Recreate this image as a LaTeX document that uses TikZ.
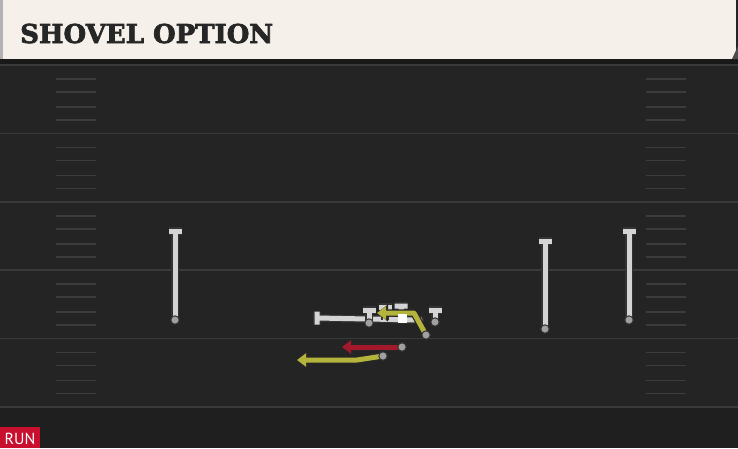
\documentclass[tikz,border=0pt]{standalone}
\usepackage{fontspec}
\usepackage{tikz}
\usetikzlibrary{arrows.meta}
\usepackage{xcolor}
\newfontfamily\titlefont[FakeBold=2.5]{DejaVu Serif}
\newfontfamily\tagfont{PT Sans}
\definecolor{cream}{HTML}{F5F1EA}
\definecolor{field}{HTML}{242424}
\definecolor{fielddark}{HTML}{1F1F1F}
\definecolor{yardline}{HTML}{3A3A3A}
\definecolor{hashmark}{HTML}{3C3C3C}
\definecolor{bargray}{HTML}{D4D4D4}
\definecolor{dotgray}{HTML}{A0A0A0}
\definecolor{routeyellow}{HTML}{B4B43C}
\definecolor{routered}{HTML}{A3192B}
\definecolor{runred}{HTML}{C8102E}

\begin{document}
\begin{tikzpicture}[x=1pt, y=-1pt, >=Stealth,
    bar/.style={draw=bargray, line width=5pt, preaction={draw=black!80, line width=7.6pt}},
    dot/.style={fill=dotgray, draw=black!80, line width=1pt},
    route/.style={draw=#1, line width=5pt, line join=round, -{Triangle[length=9pt,width=13pt]},
        preaction={draw=black!85, line width=7.4pt, line join=round, -{Triangle[length=11pt,width=16.5pt]}}}]
        \useasboundingbox (0,0) rectangle (738,448);
        % field
        \fill [field] (0,0) rectangle (738,448);
        \fill [fielddark] (0,407) rectangle (738,448);
        \fill [black!90] (0,59) rectangle (738,65);
        \foreach \y in {65,133.5,202,270,338.5,407}
            \draw [yardline, line width=1.8pt] (0,\y) -- (738,\y);
        \foreach \s in {65,133.5,202,270,338.5}
            \foreach \d in {14,27,42,55} {
                \draw [hashmark, line width=1.6pt] (56,\s+\d) -- (96,\s+\d);
                \draw [hashmark, line width=1.6pt] (646,\s+\d) -- (686,\s+\d);
            }
        % header
        \fill [cream] (0,0) rectangle (736,59);
        \fill [gray!60] (0,0) rectangle (3,59);
        \fill [black!70] (732,59) -- (738,46) -- (738,59) -- cycle;
        \node [anchor=base west, inner sep=0, text=black!85,
            font=\titlefont\bfseries\fontsize{26}{26}\selectfont] (title) at (20,43) {SHOVEL OPTION};
        % tag
        \fill [runred] (0,427) rectangle (40,448);
        \node [anchor=base, inner sep=0, text=white, font=\tagfont\fontsize{16}{16}\selectfont] (tag) at (20,444.5) {RUN};

        % receivers
        \coordinate (wrL) at (175,320);
        \coordinate (wrLtop) at (175,231);
        \coordinate (wrR) at (545,329);
        \coordinate (wrRtop) at (545,241);
        \coordinate (wrW) at (629,320);
        \coordinate (wrWtop) at (629,231);
        \draw [bar] (wrL) -- (wrLtop) ([xshift=-6.5pt]wrLtop) -- ([xshift=6.5pt]wrLtop);
        \draw [bar] (wrR) -- (wrRtop) ([xshift=-6.5pt]wrRtop) -- ([xshift=6.5pt]wrRtop);
        \draw [bar] (wrW) -- (wrWtop) ([xshift=-6.5pt]wrWtop) -- ([xshift=6.5pt]wrWtop);
        \fill [dot] (wrL) circle (4.2);
        \fill [dot] (wrR) circle (4.2);
        \fill [dot] (wrW) circle (4.2);

        % line
        \coordinate (lt) at (369,323);
        \coordinate (lg) at (385,320);
        \coordinate (ctr) at (402,318);
        \coordinate (rg) at (419,320);
        \coordinate (rt) at (435,322);
        \coordinate (lttop) at (369,310);
        \coordinate (lgtop) at (385,307);
        \coordinate (ctrtop) at (401,306);
        \coordinate (rttop) at (435,310);
        \coordinate (pullend) at (317,318);
        \draw [bar] (rg) -- (pullend) ([yshift=-6.5pt]pullend) -- ([yshift=6.5pt]pullend);
        \draw [bar] (lt) -- (lttop) ([xshift=-6.5pt]lttop) -- ([xshift=6.5pt]lttop);
        \draw [bar] (lg) -- (lgtop) ([xshift=-6.5pt]lgtop) -- ([xshift=6.5pt]lgtop);
        \draw [bar] (ctr) -- (ctrtop) ([xshift=-6.5pt]ctrtop) -- ([xshift=6.5pt]ctrtop);
        \draw [bar] (rt) -- (rttop) ([xshift=-6.5pt]rttop) -- ([xshift=6.5pt]rttop);
        \fill [dot] (lt) circle (4.2);
        \fill [dot] (rg) circle (4.2);
        \fill [dot] (rt) circle (4.2);

        % backs
        \coordinate (qb) at (426,335);
        \coordinate (qbturn) at (414,313);
        \coordinate (qbend) at (377,313);
        \coordinate (rb) at (402,347);
        \coordinate (rbend) at (342,347);
        \coordinate (hb) at (383,356);
        \coordinate (hbturn) at (357,360);
        \coordinate (hbend) at (297,360);
        \draw [route=routeyellow] (qb) -- (qbturn) -- (qbend);
        \draw [route=routered] (rb) -- (rbend);
        \draw [route=routeyellow] (hb) -- (hbturn) -- (hbend);
        \fill [white] ([shift={(-4.5,-4.5)}]ctr) rectangle ([shift={(4.5,4.5)}]ctr);
        \fill [dot] (qb) circle (4.2);
        \fill [dot] (rb) circle (4.2);
        \fill [dot] (hb) circle (4.2);
    \end{tikzpicture}
\end{document}
